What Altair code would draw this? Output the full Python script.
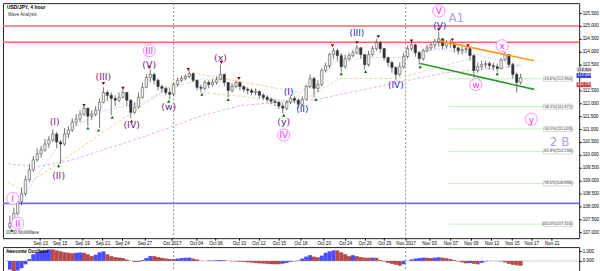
import altair as alt
import pandas as pd

# ---------------- price candles (USD/JPY, each candle ~9 trading hours) ----------------
first_open = 107.20
close = [107.35, 107.73, 108.19, 108.50, 109.04, 109.42, 109.81, 110.04, 110.19, 110.42,
         110.58, 110.81, 110.50, 110.42, 110.81, 110.96, 111.27, 111.39, 111.58, 111.81,
         111.50, 111.58, 111.73, 112.04, 112.42, 112.31, 112.19, 112.12, 112.23, 112.42,
         112.12, 111.65, 111.85, 112.23, 112.62, 113.00, 113.12, 112.89, 112.65, 112.58,
         112.42, 112.35, 112.73, 112.89, 112.96, 113.04, 113.15, 112.89, 112.62, 112.58,
         112.81, 112.73, 112.81, 112.92, 113.12, 112.81, 112.50, 112.65, 112.81, 112.65,
         112.54, 112.50, 112.42, 112.46, 112.31, 112.23, 112.15, 112.08, 112.04, 111.89,
         111.81, 112.04, 112.19, 112.12, 111.96, 112.15, 112.65, 112.96, 112.58, 112.73,
         113.27, 113.46, 113.89, 114.04, 113.85, 113.42, 113.73, 113.85, 113.96, 114.15,
         113.89, 113.50, 113.89, 114.12, 114.35, 114.12, 113.77, 113.58, 113.39, 113.12,
         113.42, 113.81, 114.12, 114.27, 113.96, 113.73, 114.04, 114.15, 114.27, 114.39,
         114.50, 114.23, 114.35, 114.31, 114.15, 114.04, 114.08, 114.12, 113.85, 113.27,
         113.42, 113.50, 113.54, 113.46, 113.42, 113.35, 113.69, 113.89, 113.50, 113.12,
         112.81, 113.00]
high = [107.65, 107.96, 108.35, 108.73, 109.19, 109.65, 109.96, 110.27, 110.35, 110.62,
        110.73, 111.00, 110.89, 110.58, 111.04, 111.12, 111.42, 111.58, 111.73, 111.89,
        111.81, 111.73, 111.89, 112.19, 112.62, 112.50, 112.42, 112.31, 112.42, 112.54,
        112.42, 112.15, 112.04, 112.42, 112.81, 113.12, 113.31, 113.19, 112.96, 112.73,
        112.65, 112.58, 112.81, 113.00, 113.08, 113.12, 113.27, 113.19, 112.92, 112.73,
        112.89, 112.89, 112.96, 113.04, 113.50, 113.15, 112.81, 112.77, 112.89, 112.85,
        112.69, 112.62, 112.58, 112.58, 112.50, 112.39, 112.31, 112.23, 112.15, 112.08,
        112.00, 112.12, 112.31, 112.27, 112.19, 112.27, 112.73, 113.12, 113.04, 112.89,
        113.35, 113.58, 113.96, 114.15, 114.12, 113.96, 113.89, 113.96, 114.08, 114.27,
        114.19, 113.89, 114.04, 114.23, 114.50, 114.42, 114.15, 113.81, 113.65, 113.42,
        113.58, 113.96, 114.23, 114.39, 114.31, 114.04, 114.12, 114.27, 114.35, 114.50,
        114.77, 114.54, 114.46, 114.46, 114.35, 114.19, 114.19, 114.19, 114.15, 113.89,
        113.58, 113.65, 113.65, 113.62, 113.58, 113.54, 113.77, 114.00, 113.92, 113.58,
        113.19, 113.15]
low = [107.12, 107.27, 107.65, 108.04, 108.42, 108.96, 109.35, 109.73, 109.89, 110.12,
       110.27, 110.50, 110.27, 109.65, 110.35, 110.65, 110.89, 111.12, 111.27, 111.50,
       111.12, 111.35, 111.50, 111.04, 112.00, 112.08, 111.54, 111.89, 112.04, 112.19,
       111.89, 111.42, 111.58, 111.81, 112.19, 112.58, 112.81, 112.73, 112.50, 112.42,
       112.31, 112.15, 112.27, 112.65, 112.81, 112.89, 112.96, 112.81, 112.50, 112.42,
       112.50, 112.58, 112.65, 112.73, 112.89, 112.65, 112.23, 112.42, 112.58, 112.50,
       112.42, 112.35, 112.31, 112.31, 112.19, 112.12, 112.04, 111.96, 111.89, 111.77,
       111.62, 111.73, 111.96, 112.00, 111.81, 111.89, 112.12, 112.58, 112.23, 112.42,
       112.65, 113.19, 113.35, 113.73, 113.65, 113.23, 113.35, 113.65, 113.77, 113.89,
       113.73, 113.31, 113.42, 113.81, 114.04, 113.96, 113.65, 113.42, 113.19, 112.92,
       113.04, 113.35, 113.73, 114.04, 113.81, 113.50, 113.65, 113.96, 114.04, 114.12,
       114.19, 114.08, 114.12, 114.15, 113.96, 113.89, 113.89, 113.96, 113.65, 113.00,
       113.19, 113.31, 113.35, 113.31, 113.27, 113.23, 113.31, 113.65, 113.39, 112.96,
       112.42, 112.73]

# ---------------- Awesome Oscillator ----------------
ao = [-0.9, -1.15, -1.0, -0.75, -0.35, 0.2, 0.7, 0.9, 1.0, 1.1,
      1.2, 1.2, 1.1, 1.0, 0.9, 0.85, 0.8, 0.85, 0.88, 0.85,
      0.7, 0.5, 0.65, 0.9, 1.0, 0.7, 0.5, 0.4, 0.35, 0.3,
      0.15, 0.0, -0.1, -0.1, 0.1, 0.3, 0.5, 0.5, 0.4, 0.33,
      0.25, 0.2, 0.2, 0.25, 0.3, 0.33, 0.35, 0.25, 0.15, 0.02,
      0.0, 0.05, 0.05, 0.08, 0.1, 0.08, 0.0, -0.03, -0.05, -0.08,
      -0.1, -0.15, -0.18, -0.22, -0.25, -0.27, -0.3, -0.33, -0.35, -0.35,
      -0.28, -0.2, -0.1, -0.03, 0.05, 0.25, 0.45, 0.6, 0.45, 0.38,
      0.55, 0.85, 1.0, 1.1, 1.1, 0.9, 0.7, 0.5, 0.6, 0.5,
      0.4, 0.35, 0.33, 0.35, 0.33, 0.1, -0.05, -0.2, -0.3, -0.4,
      -0.5, -0.35, 0.0, 0.15, 0.25, 0.3, 0.35, 0.33, 0.3, 0.35,
      0.38, 0.35, 0.28, 0.2, 0.08, -0.05, -0.15, -0.25, -0.22, -0.3,
      -0.35, -0.2, -0.05, -0.02, 0.0, -0.02, -0.05, -0.15, -0.3, -0.4,
      -0.45, -0.5]

# ---------------- axes ----------------
tick_pos = [8.25, 13.25, 19, 24.25, 29.25, 35, 42, 48.25, 53.25, 59.25, 64.25, 69.5, 75,
            81, 86.5, 91.5, 96.5, 102, 108, 113.5, 118.75, 124, 129.25, 134.25, 139.5]
tick_lab = ["Sep 13", "Sep 15", "Sep 19", "Sep 21", "Sep 24", "Sep 27", "Oct 2017", "Oct 04",
            "Oct 06", "Oct 10", "Oct 12", "Oct 15", "Oct 18", "Oct 20", "Oct 24", "Oct 26",
            "Oct 29", "Nov 2017", "Nov 03", "Nov 07", "Nov 09", "Nov 12", "Nov 15", "Nov 17",
            "Nov 21"]
# 113.000 is covered by the price tags in the reference
price_ticks = [107.0, 107.5, 108.0, 108.5, 109.0, 109.5, 110.0, 110.5, 111.0, 111.5,
               112.0, 112.5, 113.5, 114.0, 114.5, 115.0, 115.5]
month_sep = [42.5, 102]

# price tags on the right scale
tag_price = [113.30, 113.08, 112.73]
tag_text = ["113.300", "113.080", "112.730"]
tag_fill = ["#d8d8d8", "#3c3cd8", "#c84646"]
tag_ink = ["#000000", "#ffffff", "#ffffff"]

# ---------------- annotations ----------------
hl_price = [115.0, 114.37, 108.12]
hl_color = ["#ff6464", "#ff6464", "#6f6fff"]

fib_level = ["23.6%(112.950)", "38.2%(111.871)", "50.0%(111.003)", "61.8%(110.134)",
             "78.6%(108.896)", "100.0%(107.316)"]
fib_price = [112.95, 111.871, 111.003, 110.134, 108.896, 107.316]

orange_bar = [110.75, 135]
orange_price = [114.42, 113.65]
green_bar = [105.75, 135]
green_price = [113.54, 112.54]

ma_pink_bar = [0, 7.5, 16.75, 25, 33.25, 41.75, 50, 60, 79.25, 100, 112.5, 131.75]
ma_pink_price = [109.65, 109.54, 109.81, 110.23, 110.62, 111.08, 111.54, 111.92, 112.15,
                 112.81, 113.19, 113.46]
ma_blue_bar = [3, 10, 16.75, 25, 35, 40, 50, 60, 67.5, 72.5, 83.25, 91.75, 100, 110, 120, 131.75]
ma_blue_price = [108.19, 109.73, 111.08, 111.73, 112.04, 112.5, 112.96, 112.65, 112.19, 112.04,
                 113.58, 113.77, 113.77, 114.12, 113.89, 113.46]
ma_orange_bar = [0, 3, 46.75, 75]
ma_orange_price = [108.96, 108.65, 113.19, 112.42]
ma_olive_bar = [50, 75, 85, 100, 119.25]
ma_olive_price = [112.42, 112.04, 112.96, 112.96, 113.77]

tri_dn_bar = [19.5, 24.5, 29.5, 36.25, 46.25, 54.75, 59.25, 83.25, 89.5, 95, 103.5, 110.5,
              114, 118, 127]
tri_dn_price = [111.92, 112.77, 112.58, 113.385, 113.31, 113.58, 112.96, 114.23, 114.35,
                114.58, 114.42, 114.85, 114.46, 114.23, 114.04]
tri_up_bar = [1, 13, 20.5, 23.25, 26.75, 31.75, 41.25, 49.75, 56.5, 70.75, 79, 85.5, 91.75,
              105.75, 119.75, 125.5]
tri_up_price = [107.08, 109.58, 111.04, 110.96, 111.46, 111.31, 112.08, 112.35, 112.15,
                111.54, 112.15, 113.15, 113.23, 113.42, 112.92, 113.15]

pink_lab = ["I", "II", "III", "IV", "V", "w", "x", "y"]
pink_bar = [1.25, 2.5, 36.25, 70.75, 110.5, 120, 126.75, 134.25]
pink_price = [108.31, 107.35, 114.04, 110.77, 115.58, 112.73, 114.23, 111.385]

purple_lab = ["(I)", "(II)", "(III)", "(IV)", "(V)", "(w)", "(x)", "(y)"]
purple_bar = [12, 13, 24.5, 31.75, 36.25, 41.25, 54.5, 70.75]
purple_price = [111.27, 109.19, 113.0, 111.15, 113.5, 111.85, 113.77, 111.27]

blue_lab = ["(I)", "(II)", "(III)", "(IV)", "(V)"]
blue_bar = [72, 75.5, 89.5, 99.5, 110.75]
blue_price = [112.42, 111.77, 114.73, 112.69, 115.0]

big_lab = ["A1", "2 B"]
big_bar = [115, 141.5]
big_price = [115.31, 110.50]

FONT = "Liberation Sans"

# ---------------- build tables ----------------
n = len(close)
bars = [k + 0.5 for k in range(n)]
opens = [first_open] + close[:-1]
candles = pd.DataFrame({"bar": bars, "open": opens, "high": high, "low": low, "close": close,
                        "dir": ["bull" if c >= o else "bear" for o, c in zip(opens, close)]})
ao_df = pd.DataFrame({"bar": bars, "ao": ao,
                      "trend": ["rise"] + ["rise" if ao[i] > ao[i - 1] else "fall"
                                           for i in range(1, n)]})

XMAX = 145.25
XS = alt.Scale(domain=[0, XMAX], nice=False, zero=False)
YS = alt.Scale(domain=[106.77, 115.885], nice=False, zero=False)

label_expr = "[" + ",".join("'%s'" % t for t in tick_lab) + "][indexof([" + \
    ",".join(str(p) for p in tick_pos) + "], datum.value)]"

x_axis = alt.Axis(values=tick_pos, labelExpr=label_expr, title=None, grid=False, domain=False,
                  tickSize=2, tickColor="#000", labelFontSize=4.6, labelPadding=0.5,
                  labelColor="#000", labelFont=FONT, labelOverlap=False, labelFlush=False,
                  minExtent=6, maxExtent=6)
y_axis = alt.Axis(orient="right", values=price_ticks, format=".3f", title=None, grid=False,
                  domain=False, tickSize=2, tickColor="#000", labelFontSize=4.6,
                  labelPadding=1, labelColor="#000", labelFont=FONT, labelOverlap=False,
                  labelFlush=False, minExtent=17, maxExtent=17)


def X(field="bar"):
    return alt.X(f"{field}:Q", scale=XS, axis=x_axis)


def Y(field="price"):
    return alt.Y(f"{field}:Q", scale=YS, axis=y_axis)


def line_df(b, p):
    return pd.DataFrame({"bar": b, "price": p})


layers = []

# horizontal levels
layers.append(alt.Chart(pd.DataFrame({"price": hl_price, "col": hl_color})).mark_rule(
    strokeWidth=1.6).encode(y=Y(), color=alt.Color("col:N", scale=None)))

# fib levels
fib_df = pd.DataFrame({"bar": [113.0] * len(fib_price), "bar2": [XMAX] * len(fib_price),
                       "price": fib_price, "label": fib_level,
                       "lx": [144.8] * len(fib_price)})
layers.append(alt.Chart(fib_df).mark_rule(color="#aef0ae", strokeWidth=0.8).encode(
    x=X("bar"), x2="bar2:Q", y=Y()))

# month separators
layers.append(alt.Chart(pd.DataFrame({"bar": month_sep})).mark_rule(
    color="#777", strokeDash=[2, 2], strokeWidth=0.8).encode(x=X()))

# moving averages
for b, p, c, d in [(ma_pink_bar, ma_pink_price, "#e2a6e2", [3, 2]),
                   (ma_blue_bar, ma_blue_price, "#9db9f2", [1, 1.5]),
                   (ma_orange_bar, ma_orange_price, "#f7c48f", [3, 2]),
                   (ma_olive_bar, ma_olive_price, "#d9d8a6", [3, 2])]:
    layers.append(alt.Chart(line_df(b, p)).mark_line(color=c, strokeDash=d, strokeWidth=0.9)
                  .encode(x=X(), y=Y()))

# candles
layers.append(alt.Chart(candles).mark_rule(color="#3a3a3a", strokeWidth=0.7).encode(
    x=X(), y=Y("low"), y2="high:Q"))
layers.append(alt.Chart(candles).mark_bar(size=2.4, stroke="#333", strokeWidth=0.5).encode(
    x=X(), y=Y("open"), y2="close:Q",
    color=alt.Color("dir:N", scale=alt.Scale(domain=["bull", "bear"],
                                             range=["#f2f2f2", "#333333"]), legend=None)))

# trend lines
layers.append(alt.Chart(line_df(orange_bar, orange_price)).mark_line(
    color="#ff9a1a", strokeWidth=1.6).encode(x=X(), y=Y()))
layers.append(alt.Chart(line_df(green_bar, green_price)).mark_line(
    color="#2b9a2b", strokeWidth=1.6).encode(x=X(), y=Y()))

# fractal markers
layers.append(alt.Chart(line_df(tri_dn_bar, tri_dn_price)).mark_point(
    shape="triangle-down", filled=True, color="#7a0a0a", size=12, opacity=1).encode(x=X(), y=Y()))
layers.append(alt.Chart(line_df(tri_up_bar, tri_up_price)).mark_point(
    shape="triangle-up", filled=True, color="#1b6e1b", size=12, opacity=1).encode(x=X(), y=Y()))

# fib labels (small boxed text)
fib_df["bx0"] = [137.4] * len(fib_price)
layers.append(alt.Chart(fib_df).mark_rect(fill="#ffffff", stroke="#9a9a9a", strokeWidth=0.4,
                                          height=5).encode(
    x=X("bx0"), x2="lx:Q", y=Y()))
layers.append(alt.Chart(fib_df).mark_text(align="right", baseline="middle", fontSize=4,
                                          font=FONT, color="#333", dx=-0.3).encode(
    x=X("lx"), y=Y(), text="label:N"))

# price tags on the right scale
tag_df = pd.DataFrame({"bar": [XMAX + 0.6] * 3, "bar2": [XMAX + 4.3] * 3, "price": tag_price,
                       "label": tag_text, "fill": tag_fill, "ink": tag_ink})
layers.append(alt.Chart(tag_df).mark_rect(height=5).encode(
    x=X(), x2="bar2:Q", y=Y(), color=alt.Color("fill:N", scale=None)))
layers.append(alt.Chart(tag_df).mark_text(align="left", baseline="middle", fontSize=4,
                                          font=FONT, dx=0.8).encode(
    x=X(), y=Y(), text="label:N", color=alt.Color("ink:N", scale=None)))

# wave labels
pink_df = pd.DataFrame({"bar": pink_bar, "price": pink_price, "label": pink_lab})
layers.append(alt.Chart(pink_df).mark_point(shape="circle", filled=True, fill="#ffffff",
                                            stroke="#ff8cff", strokeWidth=1, size=150,
                                            opacity=1).encode(x=X(), y=Y()))
layers.append(alt.Chart(pink_df).mark_text(fontSize=9, font="DejaVu Sans", color="#ff2cff",
                                           baseline="middle", dy=0.5).encode(
    x=X(), y=Y(), text="label:N"))
layers.append(alt.Chart(pd.DataFrame({"bar": purple_bar, "price": purple_price,
                                      "label": purple_lab})).mark_text(
    fontSize=9.5, font="DejaVu Sans", color="#7d1d7d", baseline="middle").encode(
    x=X(), y=Y(), text="label:N"))
layers.append(alt.Chart(pd.DataFrame({"bar": blue_bar, "price": blue_price,
                                      "label": blue_lab})).mark_text(
    fontSize=9, font="DejaVu Sans", color="#2424e0", baseline="middle").encode(
    x=X(), y=Y(), text="label:N"))
layers.append(alt.Chart(pd.DataFrame({"bar": big_bar, "price": big_price,
                                      "label": big_lab})).mark_text(
    fontSize=12, font="DejaVu Sans", color="#b59be9", baseline="middle").encode(
    x=X(), y=Y(), text="label:N"))

# header texts
layers.append(alt.Chart(pd.DataFrame({"t": ["USD/JPY, 4 hour"]})).mark_text(
    align="left", baseline="top", fontSize=5, font=FONT, fontWeight="bold", color="#000").encode(
    x=alt.value(4), y=alt.value(2), text="t:N"))
layers.append(alt.Chart(pd.DataFrame({"t": ["Wave Analysis"]})).mark_text(
    align="left", baseline="top", fontSize=4.5, font=FONT, color="#333").encode(
    x=alt.value(5), y=alt.value(9), text="t:N"))
layers.append(alt.Chart(pd.DataFrame({"t": ["00:00  MultiWave"]})).mark_text(
    align="left", baseline="middle", fontSize=4.5, font=FONT, color="#333").encode(
    x=alt.value(3), y=alt.value(232), text="t:N"))

price_chart = alt.layer(*layers).properties(width=581, height=237)

# ---------------- oscillator panel ----------------
AOY = alt.Scale(domain=[-1.24, 1.44], nice=False, zero=False)
ao_axis = alt.Axis(orient="right", values=[0.0, 1.0], format=".3f", title=None, grid=False,
                   domain=False, tickSize=2, tickColor="#000", labelFontSize=4.6, labelPadding=1,
                   labelColor="#000", labelFont=FONT, labelOverlap=False, labelFlush=False,
                   minExtent=17, maxExtent=17)
AOX = alt.X("bar:Q", scale=XS, axis=None)

ao_bars = alt.Chart(ao_df).mark_bar(size=4, strokeWidth=0).encode(
    x=AOX, y=alt.Y("ao:Q", scale=AOY, axis=ao_axis),
    color=alt.Color("trend:N", scale=alt.Scale(domain=["rise", "fall"],
                                               range=["#4b4bff", "#b8494b"]), legend=None))
ao_zero = alt.Chart(pd.DataFrame({"ao": [0.0]})).mark_rule(
    color="#888", strokeDash=[1, 1], strokeWidth=0.8).encode(y=alt.Y("ao:Q", scale=AOY, axis=ao_axis))
ao_sep = alt.Chart(pd.DataFrame({"bar": month_sep})).mark_rule(
    color="#777", strokeDash=[2, 2], strokeWidth=0.8).encode(x=AOX)
ao_title = alt.Chart(pd.DataFrame({"t": ["Awesome Oscillator"]})).mark_text(
    align="left", baseline="top", fontSize=4.5, font=FONT, fontWeight="bold", color="#000").encode(
    x=alt.value(3), y=alt.value(2), text="t:N")
ao_chart = alt.layer(ao_bars, ao_zero, ao_sep, ao_title).properties(width=581, height=26)

chart = alt.vconcat(price_chart, ao_chart, spacing=0).properties(
    padding={"left": 1, "top": 1, "right": 0, "bottom": 1},
    background="#ffffff"
).configure_view(stroke="#222", strokeWidth=1).configure_concat(spacing=0).resolve_scale(
    color="independent")

chart.save("out.html", embed_options={"renderer": "svg", "actions": False})
